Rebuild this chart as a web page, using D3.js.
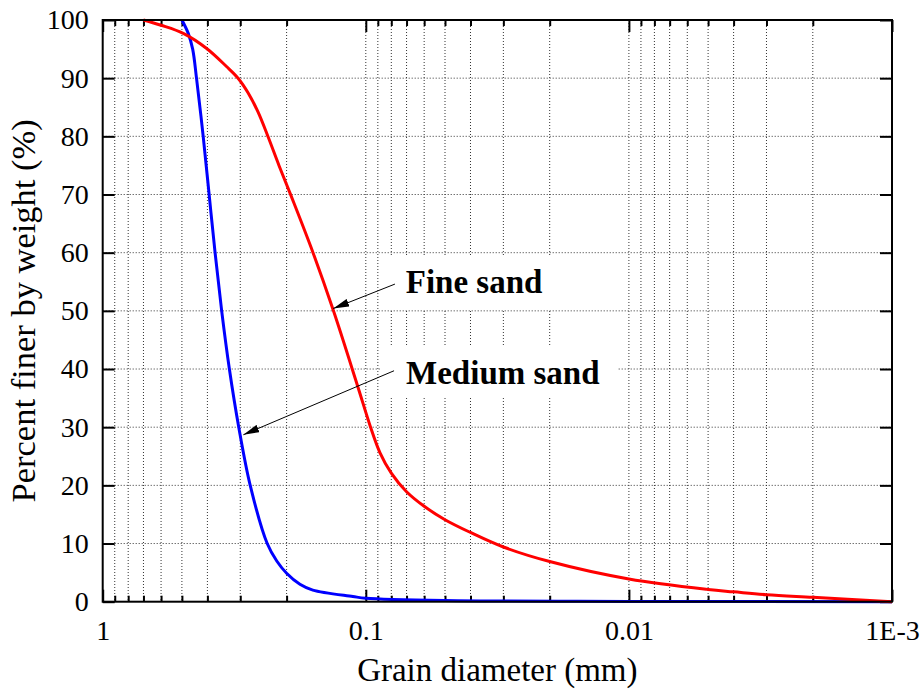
<!DOCTYPE html>
<html>
<head>
<meta charset="utf-8">
<script src="https://cdn.jsdelivr.net/npm/d3@7"></script>
<style>
  body { margin: 0; background: #fff; }
  svg { display: block; font-family: "Liberation Serif", "Times New Roman", serif; }
  svg text { font-family: "Liberation Serif", "Times New Roman", serif; }
</style>
</head>
<body>
<svg id="chart" width="922" height="691"></svg>
<script>
// grain size distribution
const fineDiam = [0.7, 0.6, 0.494, 0.4025, 0.3384, 0.3059, 0.2803, 0.2569, 0.236, 0.2138, 0.1924, 0.1587, 0.1327, 0.1073, 0.0959, 0.0883, 0.08, 0.07, 0.06, 0.05, 0.04, 0.03, 0.02, 0.01, 0.005, 0.004, 0.003, 0.002, 0.001]
const finePct  = [100, 99.1, 97.7, 95.1, 92, 90, 87.5, 84.2, 80.1, 75, 69.8, 60, 50, 37, 30, 25.6, 22.1, 18.9, 16.4, 14.1, 11.9, 9.4, 6.9, 3.9, 2.1, 1.7, 1.2, 0.75, 0]

const medDiam = [0.5, 0.473, 0.455, 0.44, 0.415, 0.394, 0.374, 0.353, 0.33, 0.304, 0.275, 0.237, 0.218, 0.2, 0.178, 0.159, 0.112, 0.1, 0.05, 0.01, 0.001]
const medPct  = [100, 97.7, 95, 90, 80, 70, 60, 50, 40, 30, 20, 10, 7, 4.9, 3, 2, 0.9, 0.6, 0.2, 0.05, 0]

const xMajor = [1, 0.1, 0.01, 0.001]
const xMajorLabels = ["1", "0.1", "0.01", "1E-3"]
const yTicks = [0, 10, 20, 30, 40, 50, 60, 70, 80, 90, 100]

// annotations: label, text pos (d, %), arrow start (d, %), arrow tip (d, %)
const notes = [
  { name: "Fine sand",   text: [0.0705, 53.0], from: [0.0775, 54.6], to: [0.133, 50.4] },
  { name: "Medium sand", text: [0.0703, 37.5], from: [0.0781, 39.7], to: [0.292, 28.7] }
]

const svg = d3.select("#chart")
const pLeft = 102.7, pRight = 892, pTop = 20, pBottom = 601.7
const serif = "'Liberation Serif', 'Times New Roman', serif"

const x = d3.scaleLog().domain([1, 0.001]).range([pLeft, pRight])
const y = d3.scaleLinear().domain([0, 100]).range([pBottom, pTop])

// minor ticks 2..9 per decade
const xMinor = []
for (let e = -1; e >= -3; e--) {
  for (let k = 2; k <= 9; k++) xMinor.push(k * Math.pow(10, e))
}

// grid
const grid = svg.append("g")
grid.selectAll("line.v")
  .data(xMinor.concat([0.1, 0.01]))
  .join("line")
    .attr("class", "v")
    .attr("x1", d => x(d)).attr("x2", d => x(d))
    .attr("y1", pTop).attr("y2", pBottom)
    .attr("stroke", "#333").attr("stroke-width", 1)
    .attr("stroke-dasharray", "1,2")
grid.selectAll("line.h")
  .data(yTicks.slice(1, -1))
  .join("line")
    .attr("class", "h")
    .attr("x1", pLeft).attr("x2", pRight)
    .attr("y1", d => y(d)).attr("y2", d => y(d))
    .attr("stroke", "#333").attr("stroke-width", 1)
    .attr("stroke-dasharray", "1,2")

// white boxes behind the labels
svg.append("rect").attr("x", 380).attr("y", 255).attr("width", 246).attr("height", 54).attr("fill", "#fff")
svg.append("rect").attr("x", 380).attr("y", 347).attr("width", 238).attr("height", 50).attr("fill", "#fff")

// axes
function styleAxis(g) {
  g.attr("font-family", null).attr("font-size", null)
  g.select(".domain").remove()
  g.selectAll(".tick line").attr("stroke", "#000").attr("stroke-width", 2)
  g.selectAll(".tick text").attr("fill", "#000")
    .style("font-size", "28px")
    .style("font-family", serif)
}

svg.append("g").attr("transform", `translate(0,${pBottom})`)
  .call(d3.axisBottom(x).tickValues(xMinor).tickSize(-6).tickFormat(""))
  .call(styleAxis)
svg.append("g").attr("transform", `translate(0,${pBottom})`)
  .call(d3.axisBottom(x).tickValues(xMajor).tickSize(-12).tickPadding(18.5)
    .tickFormat((d, i) => xMajorLabels[i]))
  .call(styleAxis)
svg.append("g").attr("transform", `translate(0,${pTop})`)
  .call(d3.axisTop(x).tickValues(xMinor).tickSize(-6).tickFormat(""))
  .call(styleAxis)
svg.append("g").attr("transform", `translate(0,${pTop})`)
  .call(d3.axisTop(x).tickValues(xMajor).tickSize(-12).tickFormat(""))
  .call(styleAxis)
svg.append("g").attr("transform", `translate(${pLeft},0)`)
  .call(d3.axisLeft(y).tickValues(yTicks).tickSize(-12).tickPadding(14).tickFormat(d3.format("d")))
  .call(styleAxis)
svg.append("g").attr("transform", `translate(${pRight},0)`)
  .call(d3.axisRight(y).tickValues(yTicks).tickSize(-12).tickFormat(""))
  .call(styleAxis)

// curves
const line = d3.line()
  .x(d => x(d[0]))
  .y(d => y(d[1]))
  .curve(d3.curveCatmullRom.alpha(0.5))

svg.append("path")
  .datum(medDiam.map((d, i) => [d, medPct[i]]))
  .attr("d", line)
  .attr("fill", "none").attr("stroke", "#0000ff").attr("stroke-width", 3)
svg.append("path")
  .datum(fineDiam.map((d, i) => [d, finePct[i]]))
  .attr("d", line)
  .attr("fill", "none").attr("stroke", "#ff0000").attr("stroke-width", 3)

// frame
svg.append("rect")
  .attr("x", pLeft).attr("y", pTop)
  .attr("width", pRight - pLeft).attr("height", pBottom - pTop)
  .attr("fill", "none").attr("stroke", "#000").attr("stroke-width", 2)

// arrows + labels
svg.append("defs").append("marker")
  .attr("id", "head")
  .attr("markerUnits", "userSpaceOnUse")
  .attr("markerWidth", 16).attr("markerHeight", 8)
  .attr("refX", 16).attr("refY", 4)
  .attr("orient", "auto")
  .append("path").attr("d", "M0,0 L16,4 L0,8 Z").attr("fill", "#000")

const ann = svg.append("g")
ann.selectAll("line")
  .data(notes)
  .join("line")
    .attr("x1", d => x(d.from[0])).attr("y1", d => y(d.from[1]))
    .attr("x2", d => x(d.to[0])).attr("y2", d => y(d.to[1]))
    .attr("stroke", "#000").attr("stroke-width", 1)
    .attr("marker-end", "url(#head)")
ann.selectAll("text")
  .data(notes)
  .join("text")
    .attr("x", d => x(d.text[0])).attr("y", d => y(d.text[1]))
    .style("font-family", serif)
    .attr("font-size", 33).attr("font-weight", "bold")
    .text(d => d.name)

// axis titles
svg.append("text")
  .attr("x", (pLeft + pRight) / 2).attr("y", 681)
  .attr("text-anchor", "middle").attr("font-size", 33)
  .style("font-family", serif)
  .text("Grain diameter (mm)")
svg.append("text")
  .attr("transform", `translate(35,${(pTop + pBottom) / 2}) rotate(-90)`)
  .attr("text-anchor", "middle").attr("font-size", 34.5)
  .style("font-family", serif)
  .text("Percent finer by weight (%)")
</script>
</body>
</html>
